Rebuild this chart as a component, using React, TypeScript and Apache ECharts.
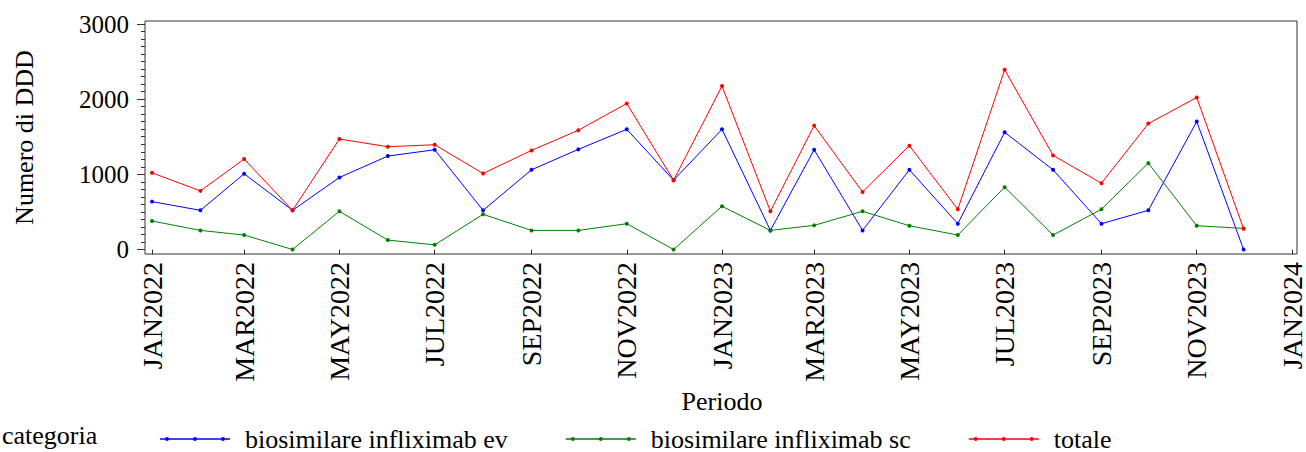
import React, { useEffect, useRef } from "react";
import * as echarts from "echarts";

const periods = [
  "2022-01", "2022-02", "2022-03", "2022-04", "2022-05", "2022-06",
  "2022-07", "2022-08", "2022-09", "2022-10", "2022-11", "2022-12",
  "2023-01", "2023-02", "2023-03", "2023-04", "2023-05", "2023-06",
  "2023-07", "2023-08", "2023-09", "2023-10", "2023-11", "2023-12",
];
const evValues = [637, 521, 1007, 521, 958, 1243, 1327, 521, 1060, 1332, 1599, 922, 1599, 254, 1327, 254, 1060, 343, 1559, 1060, 343, 521, 1702, 0];
const scValues = [379, 254, 192, 0, 508, 125, 62, 468, 254, 254, 343, 0, 575, 254, 321, 508, 316, 192, 829, 192, 535, 1149, 316, 281];
const totValues = [1020, 780, 1203, 521, 1470, 1367, 1394, 1011, 1318, 1586, 1942, 922, 2174, 508, 1648, 766, 1381, 535, 2392, 1252, 882, 1675, 2022, 276];

const tickPeriods = ["2022-01", "2022-03", "2022-05", "2022-07", "2022-09", "2022-11", "2023-01", "2023-03", "2023-05", "2023-07", "2023-09", "2023-11", "2024-01"];
const yMajorTicks = [0, 1000, 2000, 3000];
const yMinorTicks = [100, 200, 300, 400, 500, 600, 700, 800, 900, 1100, 1200, 1300, 1400, 1500, 1600, 1700, 1800, 1900, 2100, 2200, 2300, 2400, 2500, 2600, 2700, 2800, 2900];
const monthNames = ["JAN", "FEB", "MAR", "APR", "MAY", "JUN", "JUL", "AUG", "SEP", "OCT", "NOV", "DEC"];

const seriesNames = ["biosimilare infliximab ev", "biosimilare infliximab sc", "totale"];
const seriesColors = ["#0000ff", "#008000", "#ff0000"];

const toTs = (p: string) => {
  const [y, m] = p.split("-").map(Number);
  return Date.UTC(y, m - 1, 1);
};
const DAY = 86400000;
const FONT = "Liberation Serif, Times New Roman, serif";
const FRAME = "#333333";

export default function App() {
  const ref = useRef<HTMLDivElement>(null);
  useEffect(() => {
    document.body.style.margin = "0";
    const chart = echarts.init(ref.current!, null, { renderer: "svg" });
    const xs = periods.map(toTs);
    const mk = (vals: number[]) => vals.map((v, i) => [xs[i], v]);
    const all = [evValues, scValues, totValues];
    const legendIcon =
      "path://M0,1.25L70,1.25L70,2.75L0,2.75Z" +
      "M5,2a2,2 0 1,1 4,0a2,2 0 1,1 -4,0Z" +
      "M33,2a2,2 0 1,1 4,0a2,2 0 1,1 -4,0Z" +
      "M61,2a2,2 0 1,1 4,0a2,2 0 1,1 -4,0Z" +
      "M0,0L0.01,0L0.01,0.01Z M69.99,4L70,4L70,3.99Z";
    chart.setOption({
      animation: false,
      textStyle: { fontFamily: FONT },
      grid: {
        left: 145,
        right: 7,
        top: 21,
        bottom: 198,
        show: true,
        borderColor: FRAME,
        borderWidth: 1,
        containLabel: false,
      },
      xAxis: {
        type: "value",
        min: toTs("2022-01") - 4.5 * DAY,
        max: toTs("2024-01") + 3.2 * DAY,
        axisLine: { show: false },
        splitLine: { show: false },
        axisTick: {
          show: true,
          length: 5,
          inside: false,
          customValues: tickPeriods.map(toTs),
          lineStyle: { color: FRAME, width: 1 },
        },
        axisLabel: {
          customValues: tickPeriods.map(toTs),
          rotate: 90,
          margin: 8,
          fontSize: 28,
          color: "#000",
          fontFamily: FONT,
          formatter: (v: number) => {
            const d = new Date(v);
            return monthNames[d.getUTCMonth()] + d.getUTCFullYear();
          },
        },
      },
      yAxis: [
        {
          type: "value",
          min: -60,
          max: 3040,
          axisLine: { show: false },
          splitLine: { show: false },
          axisTick: {
            show: true,
            length: 8,
            customValues: yMajorTicks,
            lineStyle: { color: FRAME, width: 1 },
          },
          axisLabel: {
            customValues: yMajorTicks,
            margin: 16,
            fontSize: 25,
            color: "#000",
            fontFamily: FONT,
            formatter: (v: number) => String(Math.round(v)),
          },
        },
        {
          type: "value",
          min: -60,
          max: 3040,
          position: "left",
          axisLine: { show: false },
          splitLine: { show: false },
          axisLabel: { show: false },
          axisTick: {
            show: true,
            length: 4,
            customValues: yMinorTicks,
            lineStyle: { color: FRAME, width: 1 },
          },
        },
      ],
      legend: {
        left: 155,
        top: 421,
        itemWidth: 70,
        itemHeight: 4,
        itemGap: 58,
        icon: legendIcon,
        textStyle: {
          fontSize: 26,
          lineHeight: 26,
          color: "#000",
          fontFamily: FONT,
          padding: [0, 0, 0, 10],
        },
        itemStyle: { borderWidth: 0 },
        lineStyle: { width: 0 },
        data: seriesNames,
      },
      graphic: [
        {
          type: "text",
          x: 2,
          y: 435,
          style: {
            text: "categoria",
            font: `26px ${FONT}`,
            fill: "#000",
            align: "left",
            verticalAlign: "middle",
          },
        },
        {
          type: "text",
          x: 722,
          y: 401,
          style: {
            text: "Periodo",
            font: `26px ${FONT}`,
            fill: "#000",
            align: "center",
            verticalAlign: "middle",
          },
        },
        {
          type: "text",
          x: 24,
          y: 137.5,
          rotation: Math.PI / 2,
          style: {
            text: "Numero di DDD",
            font: `26px ${FONT}`,
            fill: "#000",
            align: "center",
            verticalAlign: "middle",
          },
        },
      ],
      series: seriesNames.map((name, k) => ({
        name,
        type: "line",
        yAxisIndex: 0,
        data: mk(all[k]),
        symbol: "circle",
        symbolSize: 4,
        showSymbol: true,
        color: seriesColors[k],
        lineStyle: { color: seriesColors[k], width: 1 },
        itemStyle: { color: seriesColors[k] },
      })),
    });
    return () => chart.dispose();
  }, []);
  return <div ref={ref} style={{ width: 1306, height: 452 }} />;
}
